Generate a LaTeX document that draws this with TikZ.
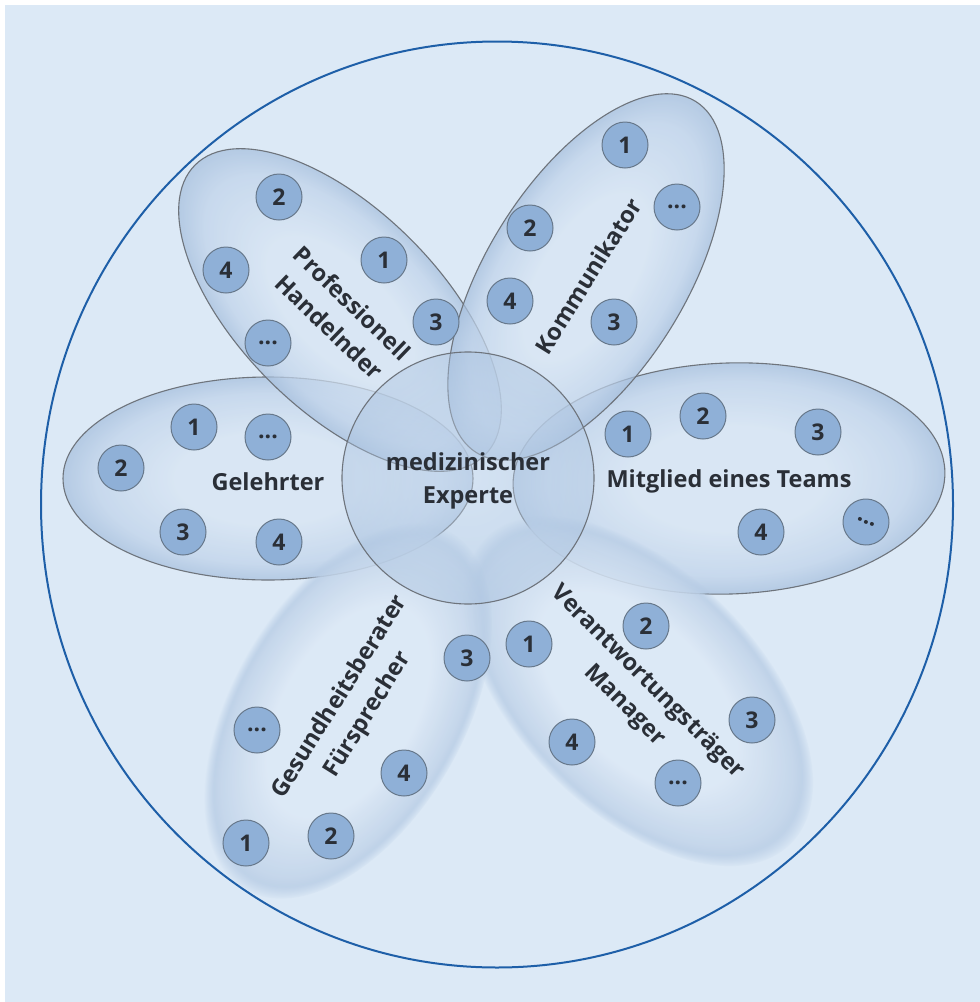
\documentclass[tikz,border=0pt]{standalone}
\usepackage{fontspec}
\setmainfont{Open Sans}
\usetikzlibrary{fadings}

\definecolor{bg}{HTML}{DCE9F6}
\definecolor{petalin}{HTML}{D9E6F4}
\definecolor{petalmid}{HTML}{C0D3EA}
\definecolor{petalout}{HTML}{A6BFDD}
\definecolor{softin}{HTML}{DDE9F6}
\definecolor{softmid}{HTML}{C3D5EA}
\definecolor{softout}{HTML}{B3C9E3}
\definecolor{rim}{HTML}{6E747C}
\definecolor{ring}{HTML}{1E5FA8}
\definecolor{dotfill}{HTML}{8FB0D7}
\definecolor{dotrim}{HTML}{67788B}
\definecolor{ink}{HTML}{2A2F37}
\definecolor{corein}{HTML}{CADBEF}
\definecolor{coreout}{HTML}{A9C2DF}

% radial fill of a petal: light centre, darker rim
\pgfdeclareradialshading{petalshade}{\pgfpointorigin}{color(0bp)=(petalin); color(11bp)=(petalin); color(21bp)=(petalmid); color(25bp)=(petalout); color(50bp)=(petalout)}
\pgfdeclareradialshading{softshade}{\pgfpointorigin}{color(0bp)=(softin); color(14bp)=(softin); color(22bp)=(softmid); color(25bp)=(softout); color(50bp)=(softout)}
\pgfdeclareradialshading{coreshade}{\pgfpointorigin}{color(0bp)=(corein); color(25bp)=(coreout); color(50bp)=(coreout)}
% soft rim for the petals without outline
\pgfdeclareradialshading{softrimmask}{\pgfpointorigin}{color(0bp)=(white); color(23.3bp)=(white); color(25bp)=(black); color(50bp)=(black)}
\pgfdeclarefading{softrim}{\pgfuseshading{softrimmask}}

\tikzset{
  x=1pt, y=-1pt,
  rimline/.style={draw=rim, line width=1.1pt},
  dot/.style={circle, minimum size=46pt, inner sep=0pt, draw=dotrim, line width=1pt,
    fill=dotfill, text=ink, font=\bfseries\fontsize{23}{23}\selectfont},
  lbl/.style={text=ink, align=center, inner sep=0pt,
    font=\bfseries\fontsize{23.5}{33}\selectfont},
}

% outlined petal: centre x, centre y, angle, half axes
\newcommand\outlinedpetal[5]{%
  \begin{scope}[transform canvas={shift={(#1,#2)},rotate=#3}]
    \shade[shading=petalshade, fill opacity=0.72] (0,0) ellipse [x radius=#4, y radius=#5];
    \draw[rimline] (0,0) ellipse [x radius=#4, y radius=#5];
  \end{scope}}
% petal with a soft edge and no outline
\newcommand\softpetal[5]{%
  \begin{scope}[transform canvas={shift={(#1,#2)},rotate=#3}]
    \shade[shading=softshade, path fading=softrim, fill opacity=0.88] (0,0) ellipse [x radius=#4, y radius=#5];
  \end{scope}}

\begin{document}
\begin{tikzpicture}
\useasboundingbox (0,0) rectangle (980,1002);
\fill[white] (0,0) rectangle (980,1002);
\fill[bg] (5,5) rectangle (980,1002);

% outer ring
\draw[ring, line width=2pt] (497,504.5) ellipse [x radius=456, y radius=463];

% petals
\outlinedpetal{268}{478.5}{0}{205}{101.5}
\outlinedpetal{729}{478.5}{2}{216}{115.5}
\outlinedpetal{340}{310}{-45}{205}{100}
\outlinedpetal{586}{277}{58}{207}{99}
\softpetal{638}{691}{-45}{216}{121}
\softpetal{348}{711}{60}{206}{116}

% centre
\shade[shading=coreshade, fill opacity=0.42] (468,478) circle [radius=126];
\draw[rimline] (468,478) circle [radius=126];
\node[lbl] (core) at (468,481) {medizinischer\\Experte};

% Professionell Handelnder
\node[lbl, rotate=-44] (prof) at (341,315) {Professionell\\Handelnder};
\node[dot] (prof1) at (384,260) {1};
\node[dot] (prof2) at (279,197) {2};
\node[dot] (prof3) at (436,322) {3};
\node[dot] (prof4) at (226,270) {4};
\node[dot] (profx) at (268,343) {...};

% Kommunikator
\node[lbl, rotate=58] (komm) at (588,276) {Kommunikator};
\node[dot] (komm1) at (625,145) {1};
\node[dot] (komm2) at (530,228) {2};
\node[dot] (komm3) at (614,322) {3};
\node[dot] (komm4) at (510,301) {4};
\node[dot] (kommx) at (677,207) {...};

% Gelehrter
\node[lbl] (gel) at (268,482) {Gelehrter};
\node[dot] (gel1) at (194,427) {1};
\node[dot] (gel2) at (121,468) {2};
\node[dot] (gel3) at (183,532) {3};
\node[dot] (gel4) at (279,542) {4};
\node[dot] (gelx) at (268,437) {...};

% Mitglied eines Teams
\node[lbl] (team) at (729,481) {Mitglied eines Teams};
\node[dot] (team1) at (628,434) {1};
\node[dot] (team2) at (703,416) {2};
\node[dot] (team3) at (818,432) {3};
\node[dot] (team4) at (761,532) {4};
\node[dot, rotate=-25] (teamx) at (866,522) {...};

% Verantwortungstraeger / Manager
\node[lbl, rotate=-45] (mgr) at (636,694) {Verantwortungsträger\\Manager};
\node[dot] (mgr1) at (529,644) {1};
\node[dot] (mgr2) at (646,626) {2};
\node[dot] (mgr3) at (752,720) {3};
\node[dot] (mgr4) at (572,742) {4};
\node[dot] (mgrx) at (678,783) {...};

% Gesundheitsberater / Fuersprecher
\node[lbl, rotate=58] (ges) at (354,706) {Gesundheitsberater\\Fürsprecher};
\node[dot] (ges1) at (246,843) {1};
\node[dot] (ges2) at (331,836) {2};
\node[dot] (ges3) at (467,658) {3};
\node[dot] (ges4) at (404,773) {4};
\node[dot] (gesx) at (257,730) {...};
\end{tikzpicture}
\end{document}
